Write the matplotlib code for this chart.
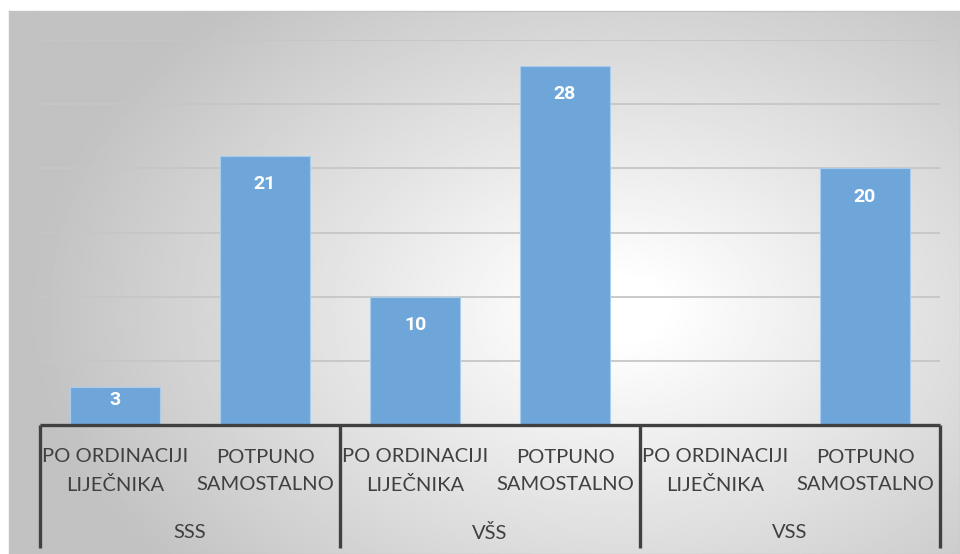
import numpy as np
import matplotlib.pyplot as plt

# ─────────────────────────── data ────────────────────────────
groups     = ['SSS', 'VŠS', 'VSS']
subgroups  = ['PO ORDINACIJI\nLIJEČNIKA', 'POTPUNO\nSAMOSTALNO']
values     = [3, 21, 10, 28, np.nan, 20]
y_ticks    = [0, 5, 10, 15, 20, 25, 30]

bar_color  = '#6FA6DA'
text_color = '#404040'

plt.rcParams['font.family'] = ['Lato', 'DejaVu Sans']

fig = plt.figure(figsize=(9.6, 5.54), dpi=100)
W, H = 960, 554

# ── radial gradient background ──
bg = fig.add_axes([9 / W, 0, 951 / W, 543 / H], zorder=0)
xx, yy = np.meshgrid(np.linspace(0, 1, 400), np.linspace(0, 1, 240))
r = np.sqrt(((xx - 0.64) / 0.62) ** 2 + ((yy - 0.55) / 0.75) ** 2)
shade = np.clip(1.02 - 0.26 * r, 0.76, 1.0)
bg.imshow(shade, cmap='gray', vmin=0, vmax=1, aspect='auto',
          extent=[0, 1, 0, 1], origin='upper', interpolation='bilinear')
bg.set_xticks([]); bg.set_yticks([])
for s in bg.spines.values():
    s.set_color('#C4C4C4'); s.set_linewidth(1)

# ── main axes ──
ax = fig.add_axes([40 / W, 129 / H, 900 / W, 385 / H], zorder=1)
ax.patch.set_alpha(0)
x = np.arange(len(values))
ax.bar(x, values, width=0.6, color=bar_color, edgecolor='#A9CBEC',
       linewidth=0.8, zorder=3)
ax.set_xlim(-0.5, len(values) - 0.5)
ax.set_ylim(0, 30)
ax.set_yticks(y_ticks)
ax.yaxis.grid(True, color='#C6C6C6', lw=1.3, zorder=0)
ax.tick_params(left=False, bottom=False, labelleft=False, labelbottom=False)
for s in ax.spines.values():
    s.set_visible(False)

# value labels inside bar ends
for xi, v in zip(x, values):
    if np.isnan(v):
        continue
    ax.text(xi, max(v - 2.2, v * 0.65), f'{v:g}', ha='center', va='center',
            color='white', fontsize=14, fontweight='bold',
            family=['Roboto', 'DejaVu Sans'], zorder=4)

# ── multi-level category axis ──
tr = ax.get_xaxis_transform()
ax.plot([-0.5, len(values) - 0.5], [0, 0], color=text_color, lw=2.4,
        transform=tr, clip_on=False, zorder=5, solid_capstyle='butt')
for b in np.arange(-0.5, len(values), len(subgroups)):
    ax.plot([b, b], [0, -123 / 385], color=text_color, lw=2.4,
            transform=tr, clip_on=False, zorder=5, solid_capstyle='butt')

for xi in x:
    ax.text(xi, -46 / 385, subgroups[xi % len(subgroups)], transform=tr,
            ha='center', va='center', fontsize=14.5, color=text_color,
            linespacing=1.75)
for gi, g in enumerate(groups):
    center = gi * len(subgroups) + (len(subgroups) - 1) / 2
    ax.text(center, -108 / 385, g, transform=tr, ha='center', va='center',
            fontsize=14.5, color=text_color)

fig.savefig('out.png', dpi=100)
